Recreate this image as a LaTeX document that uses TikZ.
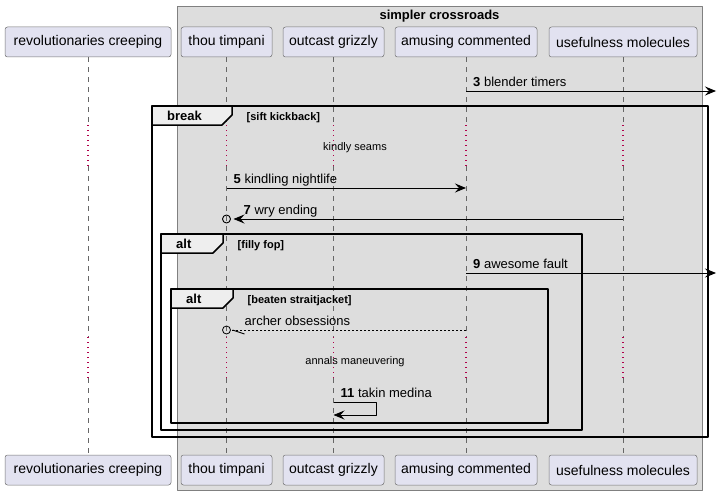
\documentclass[tikz,border=0pt]{standalone}
\usepackage{fontspec}
\setmainfont{Liberation Sans}
\usetikzlibrary{arrows.meta,calc}
\definecolor{partfill}{HTML}{E2E2F0}
\definecolor{boxfill}{HTML}{DDDDDD}
\definecolor{tabfill}{HTML}{EEEEEE}
\definecolor{delayred}{HTML}{B0004A}
\begin{document}
\begin{tikzpicture}[x=1pt, y=-1pt, line join=round,
	part/.style={draw=black!55, fill=partfill, rounded corners=2.5pt, line width=0.5pt, minimum height=30pt, inner sep=0pt, font=\fontsize{14}{16}\selectfont},
	life/.style={draw=black!60, line width=0.5pt, dash pattern=on 5pt off 5pt},
	delayline/.style={draw=delayred, line width=1.1pt, dash pattern=on 1pt off 4pt},
	msg/.style={line width=0.9pt, -{Stealth[length=11pt,width=9pt,inset=4pt]}},
	lbl/.style={anchor=base west, inner sep=0pt, font=\fontsize{13}{15}\selectfont},
	delaytext/.style={anchor=base, inner sep=0pt, font=\fontsize{11}{13}\selectfont},
	framebox/.style={draw=black, line width=1.5pt},
	kw/.style={anchor=base west, inner sep=0pt, font=\bfseries\fontsize{13}{15}\selectfont},
	cond/.style={anchor=base west, inner sep=0pt, font=\bfseries\fontsize{11}{13}\selectfont}]
	\useasboundingbox (0,0) rectangle (717,495);
	% Tham số
	\def\ytop{42}
	\def\ybot{470}
	% Hộp nhóm
	\draw[draw=black!50, line width=0.5pt, fill=boxfill] (177,6) rectangle (702,490);
	\node[kw, anchor=base] (boxtitle) at (439.5,19.5) {simpler crossroads};
	% Các đối tượng
	\foreach \n/\x/\w/\t in {rev/88/166/revolutionaries creeping, thou/226.5/91/thou timpani, outc/333.5/101/outcast grizzly, amus/466/142/amusing commented, usef/623/148/usefulness molecules}{
		\node[part, minimum width=\w pt] (\n) at (\x,\ytop) {\t};
		\node[part, minimum width=\w pt] (\n-b) at (\x,\ybot) {\t};
	}
	% Mốc thời gian
	\coordinate (d1a) at (0,125);
	\coordinate (d1b) at (0,166);
	\coordinate (d2a) at (0,337);
	\coordinate (d2b) at (0,378);
	\coordinate (y3) at (0,91);
	\coordinate (y5) at (0,188);
	\coordinate (y7) at (0,219);
	\coordinate (y9) at (0,273);
	\coordinate (ya) at (0,330);
	\coordinate (y11) at (0,402);
	\coordinate (y11b) at (0,415);
	\coordinate (out3) at (716,91);
	\coordinate (out9) at (716,273);
	% Đường đời
	\foreach \n in {rev,thou,outc,amus,usef}{
		\draw[life] (\n.south) -- (\n.south |- d1a);
		\draw[delayline] (\n.south |- d1a) -- (\n.south |- d1b);
		\draw[life] (\n.south |- d1b) -- (\n.south |- d2a);
		\draw[delayline] (\n.south |- d2a) -- (\n.south |- d2b);
		\draw[life] (\n.south |- d2b) -- (\n-b.north);
	}
	% Các khung
	\foreach \xa/\ya/\xb/\yb/\xt/\k/\c [count=\i] in {152/106/708/437/232/break/sift kickback, 161/234/582/430/223/alt/filly fop, 171/289/548/423/233/alt/beaten straitjacket}{
		\draw[framebox] (\xa,\ya) rectangle (\xb,\yb);
		\draw[framebox, fill=tabfill] (\xa,\ya) -- (\xt,\ya) -- (\xt,\ya+9) -- (\xt-10,\ya+19) -- (\xa,\ya+19) -- cycle;
		\node[kw] (tab\i) at (\xa+15,\ya+14.5) {\k};
		\node[cond] (cond\i) at (\xt+14.5,\ya+14) {[\c]};
	}
	% Thông điệp
	\draw[msg] (amus |- y3) -- (out3);
	\node[lbl] (l3) at ($(amus |- y3)+(7,-5)$) {\textbf{3} blender timers};
	\node[delaytext] (ds1) at (355,150) {kindly seams};
	\draw[msg] (thou |- y5) -- (amus |- y5);
	\node[lbl] (l5) at ($(thou |- y5)+(7,-5)$) {\textbf{5} kindling nightlife};
	\draw[line width=0.9pt] (thou |- y7) circle[radius=4pt];
	\draw[msg] (usef |- y7) -- ($(thou |- y7)+(7,0)$);
	\node[lbl] (l7) at ($(thou |- y7)+(17,-5)$) {\textbf{7} wry ending};
	\draw[msg] (amus |- y9) -- (out9);
	\node[lbl] (l9) at ($(amus |- y9)+(7,-5)$) {\textbf{9} awesome fault};
	\draw[line width=0.8pt, dash pattern=on 2pt off 2pt] (amus |- ya) -- ($(thou |- ya)+(4,0)$);
	\draw[line width=0.8pt] (thou |- ya) circle[radius=4pt];
	\draw[line width=0.9pt] ($(thou |- ya)+(6,0)$) -- ++(12,4);
	\node[lbl] (la) at ($(thou |- ya)+(18,-5)$) {archer obsessions};
	\node[delaytext] (ds2) at (355,364) {annals maneuvering};
	\draw[msg] (outc |- y11) -- ++(43,0) -- ++(0,13) -- (outc |- y11b);
	\node[lbl] (l11) at ($(outc |- y11)+(7,-5)$) {\textbf{11} takin medina};
\end{tikzpicture}
\end{document}
